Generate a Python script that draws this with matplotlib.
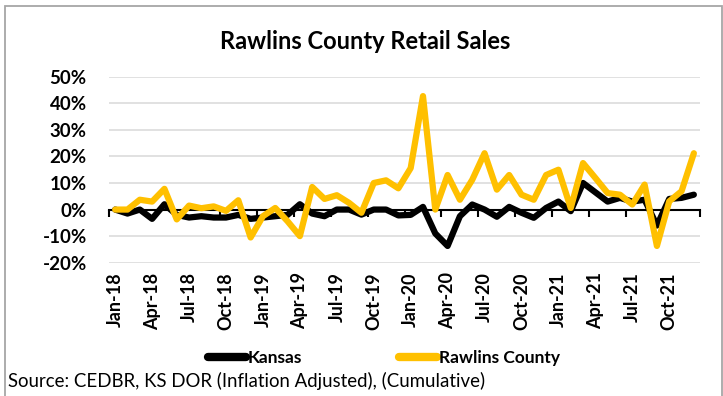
import numpy as np
import matplotlib
matplotlib.use('Agg')
import matplotlib.pyplot as plt
from matplotlib.patches import Rectangle

# monthly, Jan-18 .. Dec-21 (cumulative % change)
kansas = [0, -1.5, 0, -3.5, 2, -2, -3, -2.5, -3, -3, -2, -3.5,
          -3, -2.5, -2, 2, -1.5, -2.5, 0, 0, -1.9, 0, 0, -2.2,
          -2, 1, -9, -13.7, -2.5, 1.9, 0, -2.7, 1, -1.2, -3.1, 0.6,
          3, -0.6, 10, 6.5, 3, 4.4, 3, 3.7, -6, 4, 4.4, 5.6]
rawlins = [0, 0, 3.7, 3, 7.8, -3.7, 1.5, 0.5, 1.2, -0.5, 3.5, -10.5,
           -2.5, 0.6, -4.4, -10, 8.5, 4, 5.4, 2.5, -1.2, 10, 11, 8,
           15.6, 42.7, 0, 13, 3.7, 11.2, 21.2, 7.5, 13, 5.6, 3.7, 13,
           15, 0.6, 17.5, 11.9, 6.2, 5.6, 1.9, 9.4, -13.7, 3.1, 6.9, 21.2]
tick_labels = ['Jan-18', 'Apr-18', 'Jul-18', 'Oct-18', 'Jan-19', 'Apr-19', 'Jul-19', 'Oct-19',
               'Jan-20', 'Apr-20', 'Jul-20', 'Oct-20', 'Jan-21', 'Apr-21', 'Jul-21', 'Oct-21']
y_ticks = [-20, -10, 0, 10, 20, 30, 40, 50]

FONT = ['Lato', 'DejaVu Sans']
YELLOW = '#FFC000'
plt.rcParams['font.family'] = FONT

fig = plt.figure(figsize=(7.23, 3.96), dpi=100)
ax = fig.add_axes([0.1508, 0.3366, 0.8174, 0.4697])

x = np.arange(len(kansas))
ax.plot(x, np.array(kansas) / 100, color='black', lw=4.5, solid_capstyle='round',
        solid_joinstyle='round', zorder=3, label='Kansas')
ax.plot(x, np.array(rawlins) / 100, color=YELLOW, lw=4.5, solid_capstyle='round',
        solid_joinstyle='round', zorder=4, label='Rawlins County')

ax.set_xlim(-0.5, len(kansas) - 0.5)
ax.set_ylim(-0.2, 0.5)
ax.set_yticks([v / 100 for v in y_ticks])
ax.set_yticklabels([f'{v}%' for v in y_ticks], fontsize=13.5, fontweight='bold')
ax.grid(axis='y', color='#D9D9D9', lw=1.1, zorder=0)
ax.set_axisbelow(True)
for s in ax.spines.values():
    s.set_visible(False)
ax.tick_params(axis='y', length=0, pad=16)

ax.set_xticks(np.arange(0, len(kansas), 3))
ax.set_xticklabels(tick_labels, rotation=90, fontsize=13, fontweight='bold')
ax.tick_params(axis='x', length=0, pad=7)

# category axis drawn at the zero line, tick marks between categories
sec = ax.secondary_xaxis(0, transform=ax.transData)
sec.set_xticks(np.arange(-0.5, len(kansas), 3))
sec.set_xticklabels([])
sec.tick_params(axis='x', length=5, width=1.5, color='black', direction='out')
sec.spines['bottom'].set_color('black')
sec.spines['bottom'].set_linewidth(1.5)
sec.set_zorder(2.5)

fig.text(0.505, 0.895, 'Rawlins County Retail Sales', ha='center', va='center',
         fontsize=17, fontweight='bold')

leg = fig.legend(loc='center', bbox_to_anchor=(0.531, 0.095), ncol=2, frameon=False,
                 handlelength=2.2, handletextpad=0.1, columnspacing=5.6,
                 prop={'size': 12.5, 'weight': 'bold'})
for h in leg.legend_handles:
    h.set_linewidth(6)

fig.text(0.011, 0.038, 'Source: CEDBR, KS DOR (Inflation Adjusted), (Cumulative)',
         ha='left', va='center', fontsize=13.4)

fig.patches.append(Rectangle((0.0075, -0.05), 0.991, 1.035, transform=fig.transFigure,
                             fill=False, edgecolor='#A6A6A6', lw=1.3))

fig.savefig('out.png', dpi=100)
